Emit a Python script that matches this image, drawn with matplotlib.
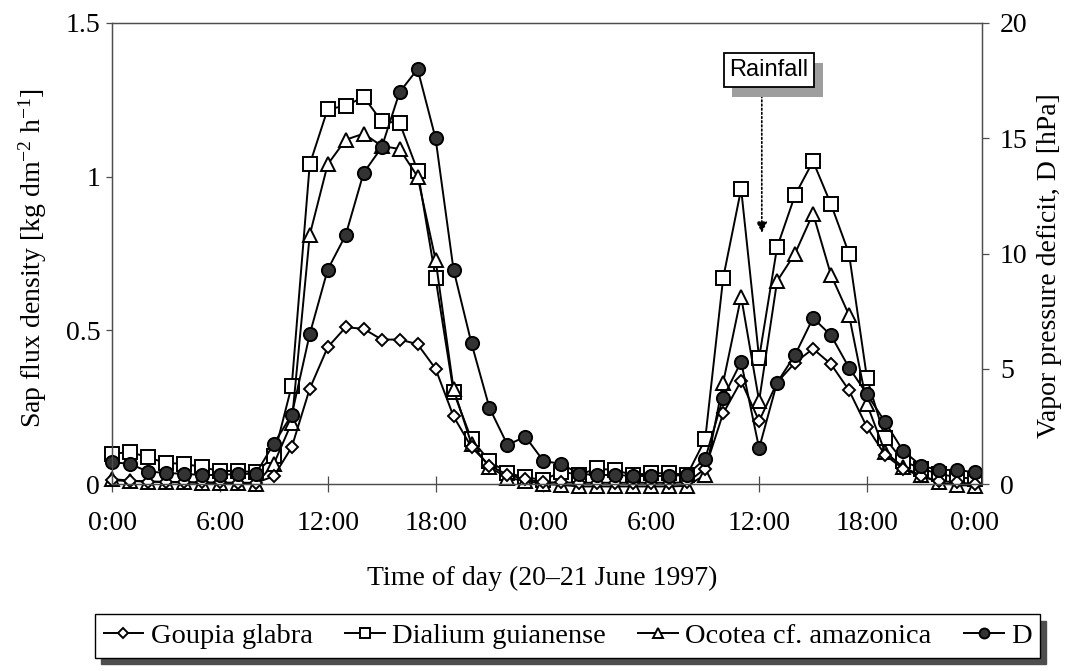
import matplotlib
matplotlib.use('Agg')
import matplotlib.pyplot as plt
import matplotlib.patheffects as pe

# ---------------- data (hourly, 20-21 June 1997) ----------------
hours = list(range(49))
tick_hours = [0, 6, 12, 18, 24, 30, 36, 42, 48]
tick_labels = ['0:00', '6:00', '12:00', '18:00', '0:00', '6:00', '12:00', '18:00', '0:00']
left_ticks = [0, 0.5, 1, 1.5]
left_tick_labels = ['0', '0.5', '1', '1.5']
right_ticks = [0, 5, 10, 15, 20]

series_names = ['Goupia glabra', 'Dialium guianense', 'Ocotea cf. amazonica', 'D']

goupia = [0.012, 0.010, 0.008, 0.007, 0.006, 0.005, 0.005, 0.004, 0.004, 0.025,
          0.12, 0.31, 0.445, 0.51, 0.505, 0.47, 0.47, 0.455, 0.375, 0.22,
          0.12, 0.06, 0.03, 0.015, 0.005, 0.005, 0.004, 0.004, 0.004, 0.004,
          0.004, 0.004, 0.005, 0.05, 0.23, 0.335, 0.205, 0.33, 0.395, 0.44,
          0.39, 0.305, 0.185, 0.095, 0.05, 0.025, 0.01, 0.005, 0.0]

dialium = [0.098, 0.104, 0.087, 0.068, 0.066, 0.055, 0.042, 0.043, 0.038, 0.09,
           0.32, 1.04, 1.22, 1.23, 1.26, 1.18, 1.175, 1.02, 0.67, 0.30,
           0.145, 0.075, 0.035, 0.022, 0.013, 0.04, 0.03, 0.051, 0.044, 0.03,
           0.035, 0.035, 0.03, 0.145, 0.67, 0.96, 0.41, 0.77, 0.94, 1.05,
           0.91, 0.75, 0.345, 0.15, 0.075, 0.05, 0.033, 0.022, 0.017]

ocotea = [0.016, 0.011, 0.008, 0.006, 0.005, 0.004, 0.003, 0.002, 0.0, 0.065,
          0.20, 0.81, 1.04, 1.12, 1.14, 1.10, 1.09, 1.0, 0.73, 0.31,
          0.13, 0.055, 0.02, 0.01, 0.0, -0.003, -0.008, -0.008, -0.008, -0.008,
          -0.008, -0.008, -0.006, 0.03, 0.33, 0.61, 0.27, 0.66, 0.75, 0.88,
          0.68, 0.55, 0.26, 0.105, 0.055, 0.028, 0.005, -0.004, -0.005]

vpd = [0.95, 0.87, 0.54, 0.48, 0.44, 0.39, 0.39, 0.44, 0.44, 1.75,
       3.0, 6.5, 9.3, 10.8, 13.5, 14.6, 17.0, 18.0, 15.0, 9.3,
       6.1, 3.3, 1.7, 2.05, 1.0, 0.87, 0.44, 0.39, 0.39, 0.35,
       0.35, 0.35, 0.4, 1.1, 3.75, 5.3, 1.55, 4.4, 5.6, 7.2,
       6.45, 5.05, 3.9, 2.7, 1.45, 0.8, 0.6, 0.62, 0.5]

# ---------------- styling ----------------
plt.rcParams['font.family'] = ['Liberation Serif', 'DejaVu Serif']
plt.rcParams['mathtext.fontset'] = 'custom'
plt.rcParams['mathtext.rm'] = 'Liberation Serif'
plt.rcParams['mathtext.it'] = 'Liberation Serif:italic'

W, H = 1066, 671
fig = plt.figure(figsize=(W / 100, H / 100), dpi=100)
ax = fig.add_axes([112 / W, 1 - 484 / H, 870 / W, 461 / H])
ax2 = ax.twinx()

common = dict(color='black', lw=1.4, mec='black', mew=1.4, clip_on=False)
l2, = ax.plot(hours, dialium, marker='s', ms=9.5, mfc='white', **common)
l3, = ax.plot(hours, ocotea, marker='^', ms=9.5, mfc='white', **common)
l1, = ax.plot(hours, goupia, marker='D', ms=6.3, mfc='white', **common)
l4, = ax2.plot(hours, vpd, marker='o', ms=9.5, mfc='#333333', **common)

ax.set_xlim(0, 48.4)
ax.set_ylim(0, 1.5)
ax2.set_ylim(0, 20)
ax.set_xticks(tick_hours)
ax.set_xticklabels(tick_labels)
ax.set_yticks(left_ticks)
ax.set_yticklabels(left_tick_labels)
ax2.set_yticks(right_ticks)

ax.tick_params(axis='x', direction='inout', length=11, width=0.9, labelsize=20, pad=14, color='0.3')
ax.tick_params(axis='y', direction='out', length=4.5, width=0.9, labelsize=20, pad=4, color='0.3')
ax2.tick_params(axis='y', direction='out', length=5, width=0.9, labelsize=20, pad=8, color='0.3')
for a in (ax, ax2):
    for s in a.spines.values():
        s.set_linewidth(0.9)
        s.set_color('0.3')

# axis labels
fig.text(33 / W, 1 - 258 / H, 'Sap flux density [kg dm$^{-2}$ h$^{-1}$]',
         rotation=90, ha='center', va='center', fontsize=20)
fig.text(1050 / W, 1 - 266 / H, 'Vapor pressure deficit, D [hPa]',
         rotation=90, ha='center', va='center', fontsize=20)
fig.text(542 / W, 1 - 578 / H, 'Time of day (20\u201321 June 1997)',
         ha='center', va='center', fontsize=20)

# Rainfall annotation
ax.annotate('', xy=(36.15, 0.817), xytext=(36.15, 1.29),
            arrowprops=dict(arrowstyle='-|>', linestyle=(0, (1, 1.5)), color='black',
                            lw=1.2, mutation_scale=16, shrinkA=0, shrinkB=0),
            zorder=4)
t = ax.text(36.55, 1.347, 'Rainfall', fontfamily='Liberation Sans', fontsize=17,
            ha='center', va='center', zorder=5,
            bbox=dict(boxstyle='square,pad=0.25', fc='white', ec='black', lw=1.3))
t.get_bbox_patch().set_path_effects([
    pe.SimplePatchShadow(offset=(6, -7), shadow_rgbFace='0.62', alpha=1),
    pe.Normal()])

# legend
leg = fig.legend([l1, l2, l3, l4], series_names, loc='center',
                 bbox_to_anchor=(95 / W, (H - 658) / H, 945 / W, 44 / H),
                 mode='expand', ncol=4, fontsize=20.5, frameon=True, fancybox=False,
                 edgecolor='black', framealpha=1, handlelength=1.4,
                 handletextpad=0.25, borderpad=0.3, borderaxespad=0,
                 markerscale=0.75,
                 shadow={'ox': 4, 'oy': -4.5, 'facecolor': '0.3',
                         'edgecolor': '0.3', 'alpha': 1})
leg.get_frame().set_linewidth(1.0)

fig.savefig('out.png', dpi=100)
